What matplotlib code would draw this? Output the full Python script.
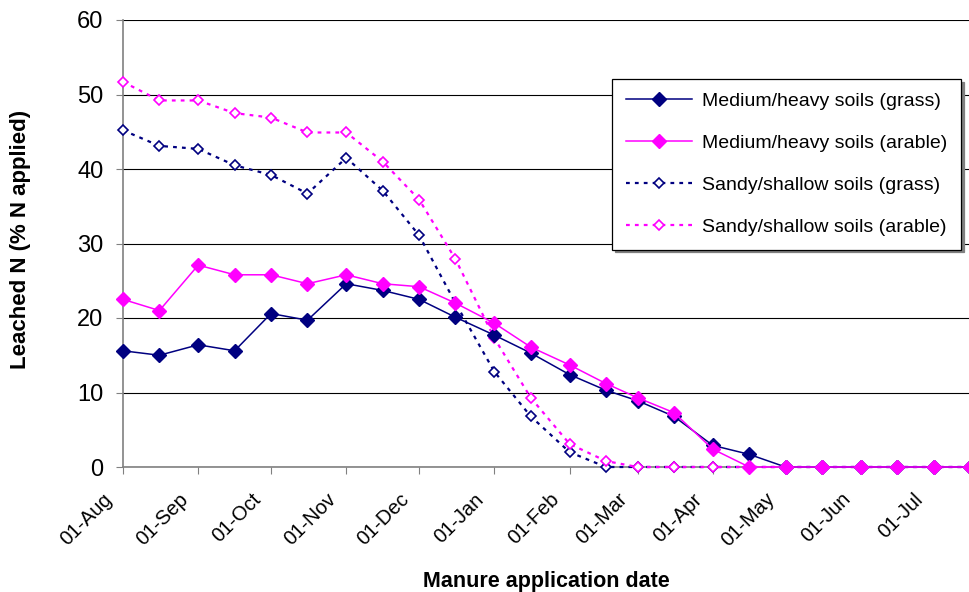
import matplotlib
matplotlib.use("Agg")
import matplotlib.pyplot as plt
import matplotlib.dates as mdates
import matplotlib.transforms as mtransforms
import pandas as pd

plt.rcParams['font.family'] = ['Liberation Sans', 'DejaVu Sans']

dates = ["2008-08-01", "2008-08-16", "2008-09-01", "2008-09-16", "2008-10-01", "2008-10-16",
         "2008-11-01", "2008-11-16", "2008-12-01", "2008-12-16", "2009-01-01", "2009-01-16",
         "2009-02-01", "2009-02-16", "2009-03-01", "2009-03-16", "2009-04-01", "2009-04-16",
         "2009-05-01", "2009-05-16", "2009-06-01", "2009-06-16", "2009-07-01", "2009-07-16"]

med_grass = [15.6, 15.0, 16.4, 15.6, 20.6, 19.7, 24.6, 23.7, 22.5, 20.1, 17.7, 15.3,
             12.4, 10.3, 8.9, 6.8, 2.9, 1.7, 0, 0, 0, 0, 0, 0]
med_arable = [22.5, 21.0, 27.1, 25.8, 25.8, 24.6, 25.8, 24.6, 24.2, 22.0, 19.3, 16.1,
              13.7, 11.2, 9.3, 7.3, 2.4, 0, 0, 0, 0, 0, 0, 0]
sandy_grass = [45.2, 43.1, 42.7, 40.5, 39.2, 36.7, 41.5, 37.1, 31.1, 22.0, 12.8, 6.8,
               2.0, 0, 0, 0, 0, 0, 0, 0, 0, 0, 0, 0]
sandy_arable = [51.7, 49.2, 49.2, 47.5, 46.9, 44.9, 44.9, 41.0, 35.9, 27.9, 17.3, 9.3,
                3.1, 0.8, 0, 0, 0, 0, 0, 0, 0, 0, 0, 0]

labels = ["Medium/heavy soils (grass)", "Medium/heavy soils (arable)",
          "Sandy/shallow soils (grass)", "Sandy/shallow soils (arable)"]

x = pd.to_datetime(dates)
NAVY = "#000080"
MAG = "#FF00FF"

fig = plt.figure(figsize=(9.7, 5.92), dpi=100)
ax = fig.add_axes([123/970, 1-467/592, 1-123/970, (467-20)/592])

ax.plot(x, med_grass, color=NAVY, lw=1.1, marker='D', ms=7, mfc=NAVY, mec=NAVY,
        label=labels[0], clip_on=False, zorder=3)
ax.plot(x, med_arable, color=MAG, lw=1.1, marker='D', ms=7, mfc=MAG, mec=MAG,
        label=labels[1], clip_on=False, zorder=3)
ax.plot(x, sandy_grass, color=NAVY, lw=1.6, ls=(0, (1.7, 2.3)), marker='D', ms=5.5,
        mfc='white', mec=NAVY, mew=1.2, label=labels[2], clip_on=False, zorder=2)
ax.plot(x, sandy_arable, color=MAG, lw=1.6, ls=(0, (1.7, 2.3)), marker='D', ms=5.5,
        mfc='white', mec=MAG, mew=1.2, label=labels[3], clip_on=False, zorder=2)

ax.set_ylim(0, 60)
ax.set_yticks(range(0, 61, 10))
ax.set_xlim(pd.Timestamp("2008-08-01"), pd.Timestamp("2009-07-16"))
ax.xaxis.set_major_locator(mdates.MonthLocator(bymonthday=1))
ax.xaxis.set_major_formatter(mdates.DateFormatter('%d-%b'))

ax.grid(axis='y', color='black', lw=0.8)
ax.set_axisbelow(True)
for s in ['top', 'right']:
    ax.spines[s].set_visible(False)
for s in ['left', 'bottom']:
    ax.spines[s].set_color('#808080')
    ax.spines[s].set_linewidth(1.2)
    ax.spines[s].set_zorder(1)

ax.tick_params(axis='y', labelsize=17, length=5, color='#808080', pad=9)
ax.tick_params(axis='x', labelsize=14.5, length=5, color='#808080', pad=4)

ax.set_ylabel("Leached N (% N applied)", fontsize=16, fontweight='bold')
ax.yaxis.label.set_va('center')
ax.yaxis.set_label_coords((21-123)/847, (467-239)/447)
ax.set_xlabel("Manure application date", fontsize=15.5, fontweight='bold')
ax.xaxis.label.set_va('center')
ax.xaxis.set_label_coords((546-123)/847, (467-581)/447)

leg = ax.legend(loc='upper left', bbox_to_anchor=(612/970, 1-79/592),
                bbox_transform=fig.transFigure, fontsize=14, frameon=True,
                fancybox=False, edgecolor='black', handlelength=3.4,
                labelspacing=1.25, borderpad=0.7, handletextpad=0.55,
                borderaxespad=0, shadow={'color': '#808080', 'alpha': 1.0})
leg.get_frame().set_linewidth(0.9)

fig.canvas.draw()
offset = mtransforms.ScaledTranslation(-20/100, -10/100, fig.dpi_scale_trans)
for lab in ax.get_xticklabels():
    lab.set_rotation(45)
    lab.set_ha('right')
    lab.set_va('top')
    lab.set_rotation_mode('anchor')
    lab.set_transform(lab.get_transform() + offset)

fig.savefig("out.png", dpi=100)
